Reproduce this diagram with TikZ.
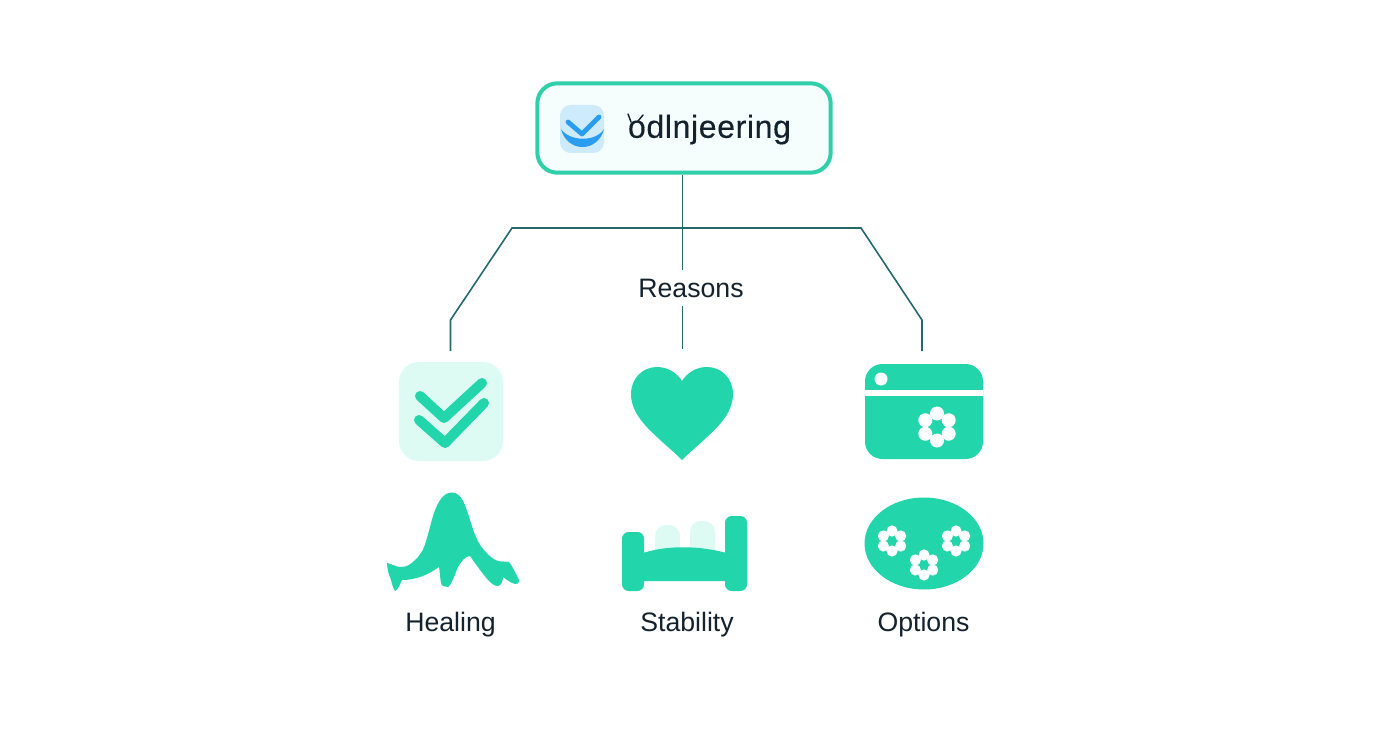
\documentclass[tikz,border=0pt]{standalone}
\usepackage{fontspec}
\setmainfont{Liberation Sans}
\definecolor{mint}{HTML}{23D5AB}
\definecolor{mintpale}{HTML}{DDFAF3}
\definecolor{rootline}{HTML}{2FCFA9}
\definecolor{rootfill}{HTML}{F6FDFD}
\definecolor{wirecol}{HTML}{25696D}
\definecolor{inkcol}{HTML}{14222E}
\definecolor{logoblue}{HTML}{2A9DF0}
\definecolor{logopale}{HTML}{CDEBFB}
\tikzset{
    wire/.style={draw=wirecol, line width=1.2pt},
    caption/.style={text=inkcol, font=\fontsize{20}{24}\selectfont, inner sep=0pt},
    tick/.style={draw=mint, line width=7.5pt, line cap=round, line join=round},
    flower/.pic={
        \foreach \a in {30,90,...,330} {\fill[white] (\a:13.5) circle[radius=7];}
    },
    smallflower/.pic={
        \foreach \a in {30,90,...,330} {\fill[white] (\a:10) circle[radius=5.6];}
    }
}
\begin{document}
\begin{tikzpicture}[x=0.75pt,y=-0.75pt]
\useasboundingbox (0,0) rectangle (1392,752);

% top box
\node[rectangle, draw=rootline, fill=rootfill, line width=3pt, rounded corners=15pt, minimum width=220pt, minimum height=67pt] (root) at (684,128) {};
\fill[logopale, rounded corners=8pt] (560,105) rectangle (604,153);
\fill[logoblue] (561,129) .. controls (567,153) and (598,153) .. (604,129) .. controls (596,142) and (570,142) .. (561,129) -- cycle;
\draw[logoblue, line width=3.6pt, line cap=round, line join=round] (568,122) -- (582,134) -- (599,117);
\node[text=inkcol, font=\fontsize{24}{28}\selectfont\addfontfeature{LetterSpace=2,FakeBold=0.3}, inner sep=0pt] (rootname) at (709.5,129.5) {odlnjeering};
\draw[inkcol, line width=1.1pt, line cap=round] (631,122) -- (628,114);
\draw[inkcol, line width=1.1pt, line cap=round] (638,121) -- (643,115);

% connectors
\coordinate (hub) at (682.5,228);
\coordinate (healtop) at (450.5,351);
\coordinate (opttop) at (922,351);
\coordinate (stabtop) at (682.5,349);
\node[caption, minimum height=27pt, minimum width=79pt] (reasons) at (691,288) {Reasons};
\draw[wire] (hub |- root.south) -- (hub |- reasons.north);
\draw[wire] (hub |- reasons.south) -- (stabtop);
\draw[wire] (healtop) -- (450.5,320) -- (512,228) -- (861,228) -- (922,320) -- (opttop);

% check tile
\fill[mintpale, rounded corners=15pt] (399,362) rectangle (503,461);
\draw[tick] (420,396) -- (444,418) -- (482,383);
\draw[tick] (419,420) -- (445,443) -- (484,403);

% heart
\fill[mint] (682,460) .. controls (672,450) and (664,444) .. (657,437)
    .. controls (645,426) and (631,412) .. (631,394)
    .. controls (631,378) and (643,367) .. (657,367)
    .. controls (668,367) and (677,373) .. (682,381)
    .. controls (687,373) and (696,367) .. (707,367)
    .. controls (721,367) and (733,378) .. (733,394)
    .. controls (733,412) and (719,426) .. (707,437)
    .. controls (700,444) and (692,450) .. (682,460) -- cycle;

% calendar
\fill[mint, rounded corners=13pt] (865,364) rectangle (983,459);
\fill[white] (865,390) rectangle (983,396);
\fill[white] (881,379) circle[radius=6.5];
\pic at (937,427) {flower};

% hill
\fill[mint] (452,492.5) .. controls (462,492.5) and (466,507) .. (470,520)
    .. controls (474,533) and (478,544) .. (484,550)
    .. controls (489,556) and (494,560) .. (498,561)
    .. controls (502,562) and (505,561) .. (509,562)
    .. controls (513,567) and (516,574) .. (519,580)
    .. controls (519,583) and (517,585) .. (515,584)
    .. controls (511,583) and (507,580) .. (503,577)
    .. controls (503,581) and (501,586) .. (498,586)
    .. controls (494,586) and (491,583) .. (488,580)
    .. controls (482,573) and (475,563) .. (470,556)
    .. controls (465,556) and (461,562) .. (458,567)
    .. controls (455,574) and (452,584) .. (448,587)
    .. controls (445,587) and (441,586) .. (441,583)
    .. controls (440,578) and (440,572) .. (439,567)
    .. controls (433,571) and (427,575) .. (420,577)
    .. controls (414,579) and (408,580) .. (402,580)
    .. controls (400,584) and (398,590) .. (395,591)
    .. controls (393,588) and (392,584) .. (391,580)
    .. controls (389,575) and (387,569) .. (387,563)
    .. controls (392,564) and (396,567) .. (401,567)
    .. controls (407,567) and (411,564) .. (414,561)
    .. controls (420,556) and (424,549) .. (426,541)
    .. controls (429,532) and (431,522) .. (434,513)
    .. controls (438,502) and (443,492.5) .. (452,492.5) -- cycle;

% bed
\fill[mintpale, rounded corners=8pt] (655,560) -- (655,525) -- (680,525) -- (680,560) -- cycle;
\fill[mintpale, rounded corners=8pt] (690,560) -- (690,521) -- (715,521) -- (715,560) -- cycle;
\fill[mint] (640,581) -- (640,554) .. controls (665,545) and (700,545) .. (730,554) -- (730,581) -- cycle;
\fill[mint, rounded corners=5pt] (622,532) rectangle (644,591);
\fill[mint, rounded corners=5pt] (725,516) rectangle (747,591);

% oval
\fill[mint] (924,543.5) ellipse[x radius=59.5, y radius=46];
\pic at (892,541) {smallflower};
\pic at (956,541) {smallflower};
\pic at (924,565) {smallflower};

% labels
\node[caption] (healing) at (450.5,624.5) {Healing};
\node[caption] (stability) at (687,624.5) {Stability};
\node[caption] (options) at (923.5,624.5) {Options};
\end{tikzpicture}
\end{document}
